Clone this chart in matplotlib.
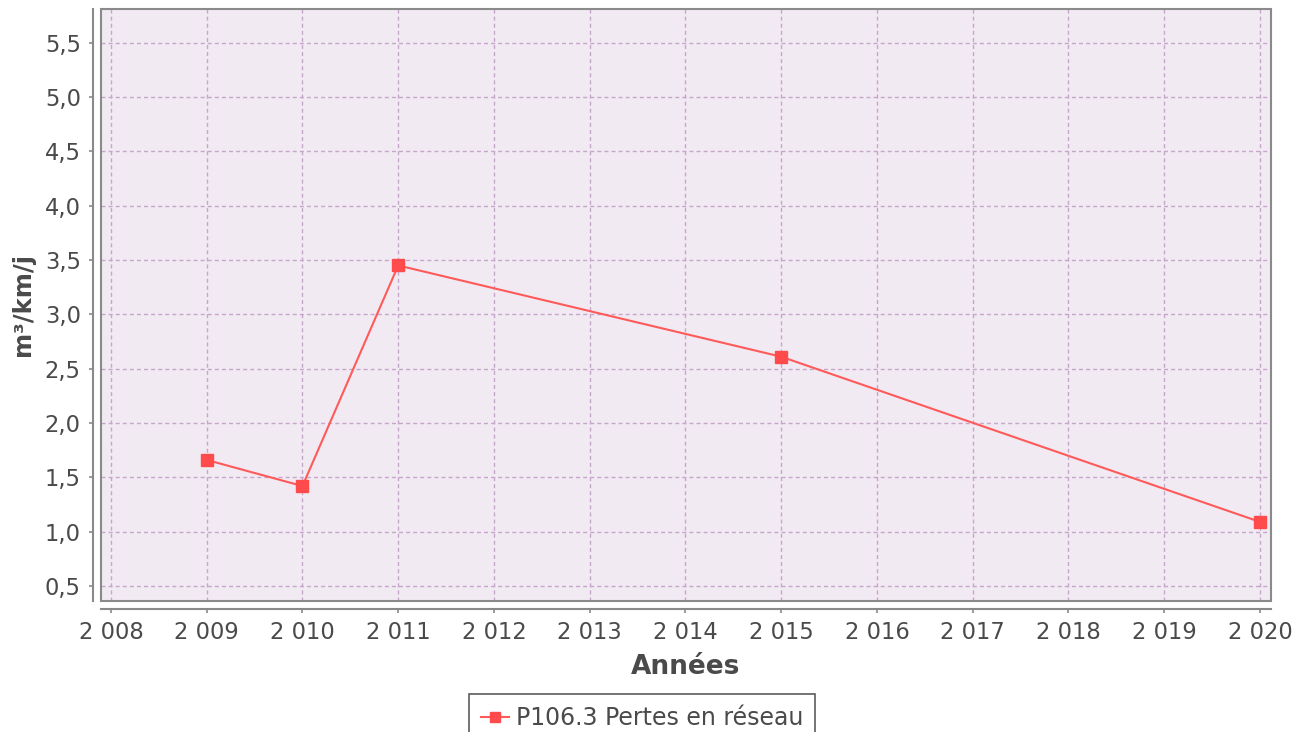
import matplotlib
matplotlib.use("Agg")
import matplotlib.pyplot as plt
from matplotlib.patches import Rectangle
from matplotlib.ticker import FuncFormatter, MultipleLocator

years = [2009, 2010, 2011, 2015, 2020]
values = [1.66, 1.42, 3.45, 2.61, 1.09]
series_label = "P106.3 Pertes en réseau"
x_label = "Années"
y_label = "m³/km/j"

plt.rcParams['font.family'] = ['DejaVu Sans']

fig = plt.figure(figsize=(13.09, 7.32), dpi=100)
W, H = 1309, 732
ax = fig.add_axes([101 / W, (H - 601) / H, 1170 / W, 592 / H])
ax.set_facecolor('#f2eaf2')

line, = ax.plot(years, values, color='#ff5a5a', lw=1.5, marker='s', markersize=9,
                markerfacecolor='#ff4b4b', markeredgecolor='#ff4b4b', label=series_label,
                zorder=3)

ax.set_xlim(2007.896, 2020.115)
ax.set_ylim(0.362, 5.81)
ax.xaxis.set_major_locator(MultipleLocator(1))
ax.yaxis.set_major_locator(MultipleLocator(0.5))
ax.xaxis.set_major_formatter(FuncFormatter(lambda v, p: f"{int(round(v)):,}".replace(",", " ")))
ax.yaxis.set_major_formatter(FuncFormatter(lambda v, p: f"{v:.1f}".replace(".", ",")))

ax.grid(True, color='#c6a6cb', lw=1.0, linestyle=(0, (2.9, 2.2)))
ax.set_axisbelow(True)

for s in ['top', 'right']:
    ax.spines[s].set_visible(False)
for s in ['left', 'bottom']:
    ax.spines[s].set_position(('outward', 5.5))
    ax.spines[s].set_color('#8a8a8a')
    ax.spines[s].set_linewidth(1.5)

ax.add_patch(Rectangle((0, 0), 1, 1, transform=ax.transAxes, fill=False,
                       edgecolor='#8a8a8a', lw=1.5, clip_on=False, zorder=4))

ax.tick_params(axis='both', colors='#8a8a8a', labelcolor='#4a4a4a', length=3,
               width=1.2, labelsize=16.3, pad=6)

ax.set_xlabel(x_label, fontsize=19, fontweight='bold', color='#4a4a4a', labelpad=7)
ax.set_ylabel(y_label, fontsize=17.5, fontweight='bold', color='#4a4a4a', labelpad=7)

leg = fig.legend(handles=[line], loc='upper left', bbox_to_anchor=(469 / W, 1 - 694 / H),
                 fontsize=17, frameon=True, fancybox=False, handlelength=1.2,
                 handletextpad=0.3, borderpad=0.5, borderaxespad=0, markerscale=0.75)
leg.get_frame().set_edgecolor('#333333')
leg.get_frame().set_linewidth(1.2)
for t in leg.get_texts():
    t.set_color('#4a4a4a')

fig.savefig('out.png', dpi=100)
